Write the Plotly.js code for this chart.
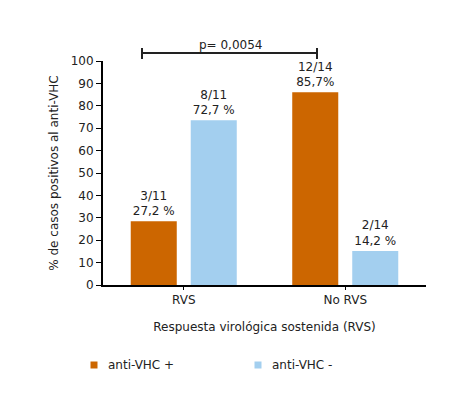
<!DOCTYPE html>
<html>
<head>
<meta charset="utf-8">
<script src="https://cdn.plot.ly/plotly-3.0.1.min.js"></script>
<style>html,body{margin:0;padding:0;background:#fff;}#chart{width:451px;height:393px;}</style>
</head>
<body>
<div id="chart"></div>
<script>
var categories = ["RVS", "No RVS"];
var seriesNames = ["anti-VHC +", "anti-VHC -"];
var seriesColors = ["#CC6600", "#A3CFEF"];
var positiveValues = [28.5, 86.0];
var negativeValues = [73.6, 15.2];
var positiveLabels = ["3/11<br>27,2 %", "12/14<br>85,7%"];
var negativeLabels = ["8/11<br>72,7 %", "2/14<br>14,2 %"];
var pValueText = "p= 0,0054";
var xTitle = "Respuesta virológica sostenida (RVS)";
var yTitle = "% de casos positivos al anti-VHC";

var FONT = "DejaVu Sans, Verdana, sans-serif";
var TXT = "#222";

var traces = [
  {type: "bar", x: categories, y: positiveValues, name: seriesNames[0],
   marker: {color: seriesColors[0]}, text: positiveLabels, textposition: "outside",
   textfont: {family: FONT, size: 12, color: TXT}, cliponaxis: false, showlegend: false, hoverinfo: "none"},
  {type: "bar", x: categories, y: negativeValues, name: seriesNames[1],
   marker: {color: seriesColors[1]}, text: negativeLabels, textposition: "outside",
   textfont: {family: FONT, size: 12, color: TXT}, cliponaxis: false, showlegend: false, hoverinfo: "none"}
];

// plot area in px: left 103, right 426, top 61, bottom 285
var L = 103, R = 426, T = 61, B = 285;
function px2x(p) { return (p - L) / (R - L); }
function px2y(p) { return (B - p) / (B - T); }

var shapes = [
  {type: "line", xref: "paper", yref: "paper", x0: px2x(142), x1: px2x(317), y0: px2y(53), y1: px2y(53), line: {color: "#222", width: 2}},
  {type: "line", xref: "paper", yref: "paper", x0: px2x(142), x1: px2x(142), y0: px2y(48), y1: px2y(59), line: {color: "#222", width: 2}},
  {type: "line", xref: "paper", yref: "paper", x0: px2x(317), x1: px2x(317), y0: px2y(48), y1: px2y(59), line: {color: "#222", width: 2}}
];
var annotations = [
  {xref: "paper", yref: "paper", x: px2x(230), y: px2y(45), text: pValueText, showarrow: false,
   xanchor: "center", yanchor: "middle", font: {family: FONT, size: 12, color: TXT}}
];
// legend
var legX = [94, 258];
for (var i = 0; i < seriesNames.length; i++) {
  shapes.push({type: "rect", xref: "paper", yref: "paper",
    x0: px2x(legX[i] - 3.5), x1: px2x(legX[i] + 3.5), y0: px2y(368.5), y1: px2y(361.5),
    fillcolor: seriesColors[i], line: {width: 0}});
  annotations.push({xref: "paper", yref: "paper", x: px2x(legX[i] + 12), y: px2y(365), text: seriesNames[i],
    showarrow: false, xanchor: "left", yanchor: "middle", font: {family: FONT, size: 12, color: TXT}});
}

var layout = {
  width: 451, height: 393,
  margin: {l: L, r: 451 - R, t: T, b: 393 - B, pad: 0},
  paper_bgcolor: "#fff", plot_bgcolor: "#fff",
  font: {family: FONT, size: 12, color: TXT},
  showlegend: false,
  barmode: "group", bargap: 0.257, bargroupgap: 0.233,
  xaxis: {
    type: "category", range: [-0.5, 1.5], showline: true, linecolor: "#000", linewidth: 2,
    ticks: "outside", ticklen: 3, tickcolor: "#000", showgrid: false, zeroline: false,
    tickfont: {family: FONT, size: 12, color: TXT},
    title: {text: xTitle, font: {family: FONT, size: 12, color: TXT}, standoff: 16}
  },
  yaxis: {
    range: [0, 100], dtick: 10, showline: true, linecolor: "#000", linewidth: 2,
    ticks: "outside", ticklen: 5, tickcolor: "#000", showgrid: false, zeroline: false,
    tickfont: {family: FONT, size: 12, color: TXT},
    title: {text: yTitle, font: {family: FONT, size: 12, color: TXT}, standoff: 9}
  },
  shapes: shapes,
  annotations: annotations
};

Plotly.newPlot("chart", traces, layout, {displayModeBar: false, staticPlot: true});
</script>
</body>
</html>
